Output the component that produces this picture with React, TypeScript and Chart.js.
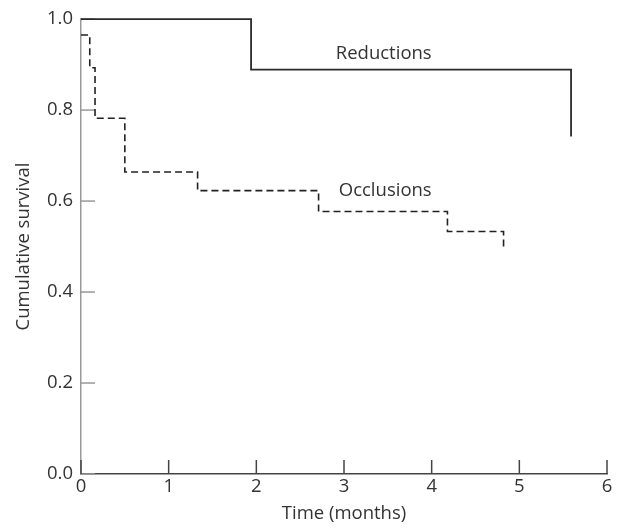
import React, { useEffect, useRef } from "react";
import { Chart, registerables } from "chart.js";

Chart.register(...registerables);

const reductionsTimes = [0, 1.94, 5.59];
const reductionsSurvival = [1.0, 0.889, 0.742];

const occlusionsTimes = [0, 0.1, 0.16, 0.5, 1.33, 2.71, 4.18, 4.82];
const occlusionsSurvival = [0.965, 0.893, 0.782, 0.664, 0.623, 0.577, 0.533, 0.498];

const xTicks = [0, 1, 2, 3, 4, 5, 6];
const yTicks = [0, 0.2, 0.4, 0.6, 0.8, 1.0];

const seriesLabels = [
  { text: "Reductions", x: 4.0, y: 0.924 },
  { text: "Occlusions", x: 4.0, y: 0.623 },
];

const FONT = "'Open Sans', Lato, sans-serif";
const FS = 18.5;

export default function App() {
  const ref = useRef<HTMLCanvasElement | null>(null);

  useEffect(() => {
    document.body.style.margin = "0";
    const canvas = ref.current;
    if (!canvas) return;

    const inwardTicks = {
      id: "inwardTicks",
      beforeDatasetsDraw(chart: any) {
        const ctx = chart.ctx;
        const xs = chart.scales.x;
        const ys = chart.scales.y;
        const area = chart.chartArea;
        ctx.save();
        ctx.lineWidth = 1.5;
        ctx.strokeStyle = "#999999";
        yTicks.forEach((v) => {
          const py = ys.getPixelForValue(v);
          ctx.beginPath();
          ctx.moveTo(area.left, py);
          ctx.lineTo(area.left + 14, py);
          ctx.stroke();
        });
        ctx.strokeStyle = "#444444";
        xTicks.forEach((v) => {
          const px = xs.getPixelForValue(v);
          ctx.beginPath();
          ctx.moveTo(px, area.bottom);
          ctx.lineTo(px, area.bottom - 14);
          ctx.stroke();
        });
        ctx.restore();
      },
      afterDatasetsDraw(chart: any) {
        const ctx = chart.ctx;
        const xs = chart.scales.x;
        const ys = chart.scales.y;
        ctx.save();
        ctx.fillStyle = "#333333";
        ctx.font = `${FS}px ${FONT}`;
        ctx.textAlign = "right";
        ctx.textBaseline = "middle";
        seriesLabels.forEach((l) => {
          ctx.fillText(l.text, xs.getPixelForValue(l.x), ys.getPixelForValue(l.y));
        });
        ctx.restore();
      },
    };

    const chart = new Chart(canvas, {
      type: "line",
      data: {
        datasets: [
          {
            label: "Reductions",
            data: reductionsTimes.map((t, i) => ({ x: t, y: reductionsSurvival[i] })),
            stepped: "before",
            borderColor: "#2a2a2a",
            borderWidth: 1.8,
            pointRadius: 0,
            fill: false,
            clip: false,
          } as any,
          {
            label: "Occlusions",
            data: occlusionsTimes.map((t, i) => ({ x: t, y: occlusionsSurvival[i] })),
            stepped: "before",
            borderColor: "#222222",
            borderWidth: 1.6,
            borderDash: [7, 4],
            pointRadius: 0,
            fill: false,
            clip: false,
          } as any,
        ],
      },
      options: {
        responsive: false,
        animation: false,
        layout: { padding: { left: 0, top: 17, right: 12, bottom: 0 } },
        plugins: {
          legend: { display: false },
          tooltip: { enabled: false },
        },
        scales: {
          x: {
            type: "linear",
            min: 0,
            max: 6,
            afterFit: (s: any) => {
              s.height = 54;
            },
            afterBuildTicks: (s: any) => {
              s.ticks = xTicks.map((v) => ({ value: v }));
            },
            grid: { display: false, drawTicks: false },
            border: { display: true, color: "#444444", width: 1.5 },
            ticks: {
              padding: 2,
              color: "#333333",
              font: { family: FONT, size: FS },
              maxRotation: 0,
              callback: (v: any) => String(v),
            },
            title: {
              display: true,
              text: "Time (months)",
              color: "#333333",
              font: { family: FONT, size: FS },
              padding: { top: 0, bottom: 3 },
            },
          },
          y: {
            type: "linear",
            min: 0,
            max: 1,
            afterFit: (s: any) => {
              s.width = 81;
            },
            afterBuildTicks: (s: any) => {
              s.ticks = yTicks.map((v) => ({ value: v }));
            },
            grid: { display: false, drawTicks: false },
            border: { display: true, color: "#999999", width: 1.5 },
            ticks: {
              padding: 8,
              color: "#333333",
              font: { family: FONT, size: FS },
              callback: (v: any) => Number(v).toFixed(1),
            },
            title: {
              display: true,
              text: "Cumulative survival",
              color: "#333333",
              font: { family: FONT, size: FS },
              padding: { top: 13, bottom: 0 },
            },
          },
        },
      },
      plugins: [inwardTicks],
    });

    return () => chart.destroy();
  }, []);

  return (
    <div style={{ width: 619, height: 528, position: "relative" }}>
      <canvas ref={ref} width={619} height={528} style={{ display: "block" }} />
    </div>
  );
}
